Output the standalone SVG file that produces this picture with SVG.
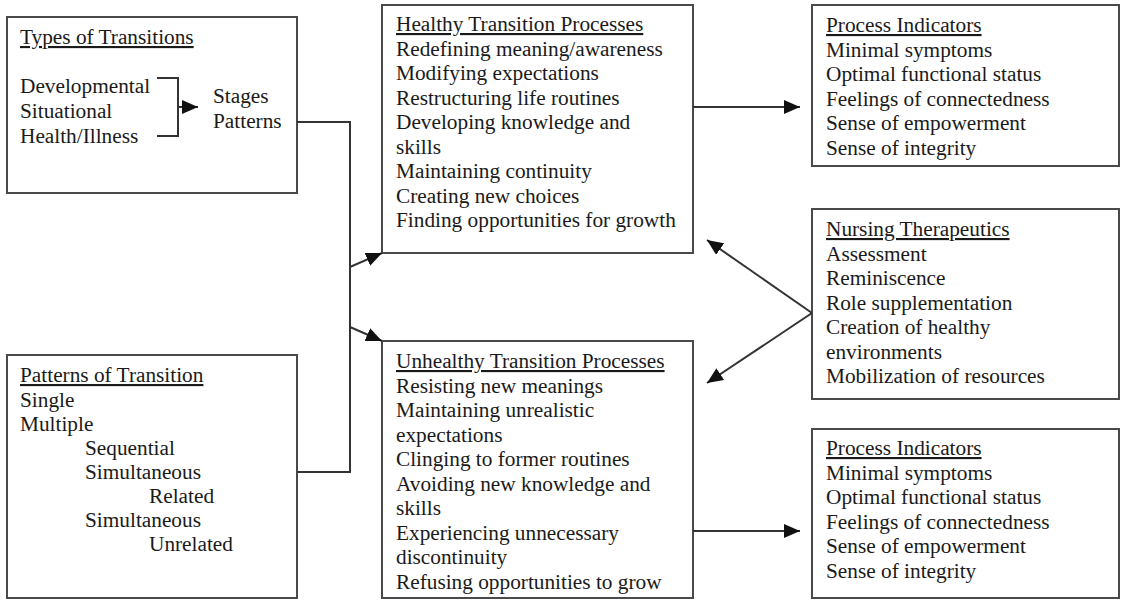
<svg xmlns="http://www.w3.org/2000/svg" width="1124" height="604" viewBox="0 0 1124 604">
  <style>
    .box { fill: #ffffff; stroke: #4a4a4a; stroke-width: 2; }
    .t { font-family: "Liberation Serif", "Times New Roman", serif; font-size: 21.3px; fill: #1a1a1a; }
    .h { text-decoration: underline; }
    .ln { fill: none; stroke: #333333; stroke-width: 2; }
  </style>
  <defs>
    <marker id="arr" markerUnits="userSpaceOnUse" markerWidth="18" markerHeight="14" refX="16" refY="7" orient="auto">
      <path d="M0,0 L16,7 L0,14 Z" fill="#111111"/>
    </marker>
  </defs>
  <rect width="1124" height="604" fill="#ffffff"/>

  <!-- Types of Transitions -->
  <g id="types">
    <rect class="box" x="7" y="17" width="290" height="176"/>
    <text class="t h" x="20" y="44">Types of Transitions</text>
    <text class="t" x="20" y="93">Developmental</text>
    <text class="t" x="20" y="118">Situational</text>
    <text class="t" x="20" y="143">Health/Illness</text>
    <path class="ln" d="M157,78 H178 V136 H157 M178,107 H198" marker-end="url(#arr)"/>
    <text class="t" x="213" y="103">Stages</text>
    <text class="t" x="213" y="128">Patterns</text>
  </g>

  <!-- Patterns of Transition -->
  <g id="patterns">
    <rect class="box" x="7" y="355" width="290" height="243"/>
    <text class="t h" x="20" y="382">Patterns of Transition</text>
    <text class="t" x="20" y="407">Single</text>
    <text class="t" x="20" y="431">Multiple</text>
    <text class="t" x="85" y="455">Sequential</text>
    <text class="t" x="85" y="479">Simultaneous</text>
    <text class="t" x="149" y="503">Related</text>
    <text class="t" x="85" y="527">Simultaneous</text>
    <text class="t" x="149" y="551">Unrelated</text>
  </g>

  <!-- Healthy Transition Processes -->
  <g id="healthy">
    <rect class="box" x="382" y="5" width="311" height="248"/>
    <text class="t h" x="396" y="31">Healthy Transition Processes</text>
    <text class="t" x="396" y="55.5">Redefining meaning/awareness</text>
    <text class="t" x="396" y="80">Modifying expectations</text>
    <text class="t" x="396" y="104.5">Restructuring life routines</text>
    <text class="t" x="396" y="129">Developing knowledge and</text>
    <text class="t" x="396" y="153.5">skills</text>
    <text class="t" x="396" y="178">Maintaining continuity</text>
    <text class="t" x="396" y="202.5">Creating new choices</text>
    <text class="t" x="396" y="227">Finding opportunities for growth</text>
  </g>

  <!-- Unhealthy Transition Processes -->
  <g id="unhealthy">
    <rect class="box" x="382" y="341" width="311" height="257"/>
    <text class="t h" x="396" y="368">Unhealthy Transition Processes</text>
    <text class="t" x="396" y="392.5">Resisting new meanings</text>
    <text class="t" x="396" y="417">Maintaining unrealistic</text>
    <text class="t" x="396" y="441.5">expectations</text>
    <text class="t" x="396" y="466">Clinging to former routines</text>
    <text class="t" x="396" y="490.5">Avoiding new knowledge and</text>
    <text class="t" x="396" y="515">skills</text>
    <text class="t" x="396" y="539.5">Experiencing unnecessary</text>
    <text class="t" x="396" y="564">discontinuity</text>
    <text class="t" x="396" y="588.5">Refusing opportunities to grow</text>
  </g>

  <!-- Process Indicators (upper) -->
  <g id="indicators-top">
    <rect class="box" x="812" y="5" width="307" height="161"/>
    <text class="t h" x="826" y="32">Process Indicators</text>
    <text class="t" x="826" y="56.5">Minimal symptoms</text>
    <text class="t" x="826" y="81">Optimal functional status</text>
    <text class="t" x="826" y="105.5">Feelings of connectedness</text>
    <text class="t" x="826" y="130">Sense of empowerment</text>
    <text class="t" x="826" y="154.5">Sense of integrity</text>
  </g>

  <!-- Nursing Therapeutics -->
  <g id="nursing">
    <rect class="box" x="812" y="209" width="307" height="190"/>
    <text class="t h" x="826" y="236">Nursing Therapeutics</text>
    <text class="t" x="826" y="260.5">Assessment</text>
    <text class="t" x="826" y="285">Reminiscence</text>
    <text class="t" x="826" y="309.5">Role supplementation</text>
    <text class="t" x="826" y="334">Creation of healthy</text>
    <text class="t" x="826" y="358.5">environments</text>
    <text class="t" x="826" y="383">Mobilization of resources</text>
  </g>

  <!-- Process Indicators (lower) -->
  <g id="indicators-bottom">
    <rect class="box" x="812" y="429" width="307" height="169"/>
    <text class="t h" x="826" y="455">Process Indicators</text>
    <text class="t" x="826" y="479.5">Minimal symptoms</text>
    <text class="t" x="826" y="504">Optimal functional status</text>
    <text class="t" x="826" y="528.5">Feelings of connectedness</text>
    <text class="t" x="826" y="553">Sense of empowerment</text>
    <text class="t" x="826" y="577.5">Sense of integrity</text>
  </g>

  <!-- Connectors -->
  <g id="connectors">
    <path class="ln" d="M297,122 H350 V472 H297"/>
    <path class="ln" d="M350,267 L382,253" marker-end="url(#arr)"/>
    <path class="ln" d="M350,327 L382,341" marker-end="url(#arr)"/>
    <path class="ln" d="M693,107 H800" marker-end="url(#arr)"/>
    <path class="ln" d="M693,531 H800" marker-end="url(#arr)"/>
    <path class="ln" d="M812,313 L707,240" marker-end="url(#arr)"/>
    <path class="ln" d="M812,313 L707,383" marker-end="url(#arr)"/>
  </g>
</svg>
